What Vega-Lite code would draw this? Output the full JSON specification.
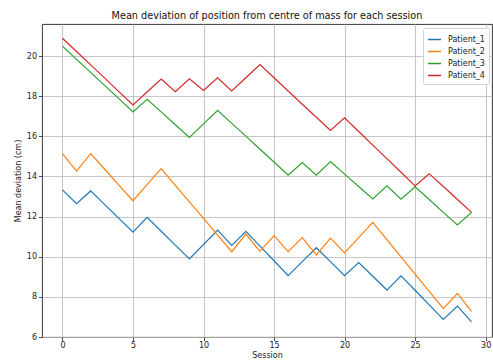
{
  "$schema": "https://vega.github.io/schema/vega-lite/v6.json",
  "width": 450,
  "height": 313,
  "autosize": {"type": "none"},
  "padding": {"left": 42, "top": 24, "right": 1, "bottom": 23},
  "config": {
    "font": "DejaVu Sans",
    "view": {"stroke": "#222", "strokeWidth": 0.9},
    "axis": {"labelFont": "DejaVu Sans", "titleFont": "DejaVu Sans", "labelFontSize": 8, "titleFontSize": 8, "labelColor": "#222", "titleColor": "#222", "titleFontWeight": "normal", "grid": true, "gridColor": "#b8b8b8", "gridWidth": 0.8, "domain": false, "tickColor": "#222", "tickSize": 3.5, "tickWidth": 0.8}
  },
  "title": {"text": "Mean deviation of position from centre of mass for each session", "fontSize": 9.7, "fontWeight": "normal", "font": "DejaVu Sans", "color": "#111", "anchor": "middle", "offset": 3},
  "data": {"values": [
    {"session":0,"patient":"Patient_1","dev":13.33},{"session":1,"patient":"Patient_1","dev":12.64},{"session":2,"patient":"Patient_1","dev":13.28},{"session":3,"patient":"Patient_1","dev":12.60},{"session":4,"patient":"Patient_1","dev":11.91},{"session":5,"patient":"Patient_1","dev":11.23},{"session":6,"patient":"Patient_1","dev":11.96},{"session":7,"patient":"Patient_1","dev":11.27},{"session":8,"patient":"Patient_1","dev":10.58},{"session":9,"patient":"Patient_1","dev":9.89},{"session":10,"patient":"Patient_1","dev":10.61},{"session":11,"patient":"Patient_1","dev":11.33},{"session":12,"patient":"Patient_1","dev":10.57},{"session":13,"patient":"Patient_1","dev":11.27},{"session":14,"patient":"Patient_1","dev":10.53},{"session":15,"patient":"Patient_1","dev":9.80},{"session":16,"patient":"Patient_1","dev":9.06},{"session":17,"patient":"Patient_1","dev":9.76},{"session":18,"patient":"Patient_1","dev":10.45},{"session":19,"patient":"Patient_1","dev":9.76},{"session":20,"patient":"Patient_1","dev":9.06},{"session":21,"patient":"Patient_1","dev":9.71},{"session":22,"patient":"Patient_1","dev":9.03},{"session":23,"patient":"Patient_1","dev":8.34},{"session":24,"patient":"Patient_1","dev":9.05},{"session":25,"patient":"Patient_1","dev":8.33},{"session":26,"patient":"Patient_1","dev":7.60},{"session":27,"patient":"Patient_1","dev":6.88},{"session":28,"patient":"Patient_1","dev":7.54},{"session":29,"patient":"Patient_1","dev":6.75},
    {"session":0,"patient":"Patient_2","dev":15.14},{"session":1,"patient":"Patient_2","dev":14.27},{"session":2,"patient":"Patient_2","dev":15.14},{"session":3,"patient":"Patient_2","dev":14.36},{"session":4,"patient":"Patient_2","dev":13.57},{"session":5,"patient":"Patient_2","dev":12.79},{"session":6,"patient":"Patient_2","dev":13.59},{"session":7,"patient":"Patient_2","dev":14.39},{"session":8,"patient":"Patient_2","dev":13.56},{"session":9,"patient":"Patient_2","dev":12.73},{"session":10,"patient":"Patient_2","dev":11.91},{"session":11,"patient":"Patient_2","dev":11.08},{"session":12,"patient":"Patient_2","dev":10.25},{"session":13,"patient":"Patient_2","dev":11.13},{"session":14,"patient":"Patient_2","dev":10.27},{"session":15,"patient":"Patient_2","dev":11.05},{"session":16,"patient":"Patient_2","dev":10.25},{"session":17,"patient":"Patient_2","dev":10.95},{"session":18,"patient":"Patient_2","dev":10.09},{"session":19,"patient":"Patient_2","dev":10.93},{"session":20,"patient":"Patient_2","dev":10.19},{"session":21,"patient":"Patient_2","dev":10.95},{"session":22,"patient":"Patient_2","dev":11.71},{"session":23,"patient":"Patient_2","dev":10.85},{"session":24,"patient":"Patient_2","dev":9.99},{"session":25,"patient":"Patient_2","dev":9.13},{"session":26,"patient":"Patient_2","dev":8.27},{"session":27,"patient":"Patient_2","dev":7.41},{"session":28,"patient":"Patient_2","dev":8.17},{"session":29,"patient":"Patient_2","dev":7.28},
    {"session":0,"patient":"Patient_3","dev":20.50},{"session":1,"patient":"Patient_3","dev":19.84},{"session":2,"patient":"Patient_3","dev":19.19},{"session":3,"patient":"Patient_3","dev":18.53},{"session":4,"patient":"Patient_3","dev":17.88},{"session":5,"patient":"Patient_3","dev":17.22},{"session":6,"patient":"Patient_3","dev":17.85},{"session":7,"patient":"Patient_3","dev":17.22},{"session":8,"patient":"Patient_3","dev":16.58},{"session":9,"patient":"Patient_3","dev":15.95},{"session":10,"patient":"Patient_3","dev":16.62},{"session":11,"patient":"Patient_3","dev":17.30},{"session":12,"patient":"Patient_3","dev":16.65},{"session":13,"patient":"Patient_3","dev":16.01},{"session":14,"patient":"Patient_3","dev":15.36},{"session":15,"patient":"Patient_3","dev":14.72},{"session":16,"patient":"Patient_3","dev":14.07},{"session":17,"patient":"Patient_3","dev":14.69},{"session":18,"patient":"Patient_3","dev":14.07},{"session":19,"patient":"Patient_3","dev":14.74},{"session":20,"patient":"Patient_3","dev":14.12},{"session":21,"patient":"Patient_3","dev":13.50},{"session":22,"patient":"Patient_3","dev":12.88},{"session":23,"patient":"Patient_3","dev":13.53},{"session":24,"patient":"Patient_3","dev":12.87},{"session":25,"patient":"Patient_3","dev":13.48},{"session":26,"patient":"Patient_3","dev":12.85},{"session":27,"patient":"Patient_3","dev":12.21},{"session":28,"patient":"Patient_3","dev":11.58},{"session":29,"patient":"Patient_3","dev":12.21},
    {"session":0,"patient":"Patient_4","dev":20.89},{"session":1,"patient":"Patient_4","dev":20.23},{"session":2,"patient":"Patient_4","dev":19.56},{"session":3,"patient":"Patient_4","dev":18.90},{"session":4,"patient":"Patient_4","dev":18.23},{"session":5,"patient":"Patient_4","dev":17.57},{"session":6,"patient":"Patient_4","dev":18.21},{"session":7,"patient":"Patient_4","dev":18.86},{"session":8,"patient":"Patient_4","dev":18.23},{"session":9,"patient":"Patient_4","dev":18.87},{"session":10,"patient":"Patient_4","dev":18.29},{"session":11,"patient":"Patient_4","dev":18.92},{"session":12,"patient":"Patient_4","dev":18.26},{"session":13,"patient":"Patient_4","dev":18.92},{"session":14,"patient":"Patient_4","dev":19.58},{"session":15,"patient":"Patient_4","dev":18.92},{"session":16,"patient":"Patient_4","dev":18.26},{"session":17,"patient":"Patient_4","dev":17.60},{"session":18,"patient":"Patient_4","dev":16.95},{"session":19,"patient":"Patient_4","dev":16.29},{"session":20,"patient":"Patient_4","dev":16.92},{"session":21,"patient":"Patient_4","dev":16.24},{"session":22,"patient":"Patient_4","dev":15.56},{"session":23,"patient":"Patient_4","dev":14.89},{"session":24,"patient":"Patient_4","dev":14.21},{"session":25,"patient":"Patient_4","dev":13.53},{"session":26,"patient":"Patient_4","dev":14.14},{"session":27,"patient":"Patient_4","dev":13.50},{"session":28,"patient":"Patient_4","dev":12.85},{"session":29,"patient":"Patient_4","dev":12.21}
  ]},
  "mark": {"type": "line", "strokeWidth": 1.2, "clip": true},
  "encoding": {
    "x": {"field": "session", "type": "quantitative", "title": "Session",
      "scale": {"domain": [-1.45, 30.45], "nice": false, "zero": false},
      "axis": {"values": [0, 5, 10, 15, 20, 25, 30], "labelPadding": 1, "titlePadding": 2}},
    "y": {"field": "dev", "type": "quantitative", "title": "Mean deviation (cm)",
      "scale": {"domain": [6, 21.6], "nice": false, "zero": false},
      "axis": {"values": [6, 8, 10, 12, 14, 16, 18, 20], "labelPadding": 2, "titlePadding": 4}},
    "color": {"field": "patient", "type": "nominal",
      "scale": {"domain": ["Patient_1", "Patient_2", "Patient_3", "Patient_4"], "range": ["#1f77b4", "#ff7f0e", "#2ca02c", "#d62728"]},
      "legend": {"title": null, "orient": "none", "legendX": 381, "legendY": 4, "fillColor": "white", "strokeColor": "#d0d0d0", "cornerRadius": 2, "padding": 4, "symbolType": "stroke", "symbolSize": 170, "symbolStrokeWidth": 1.5, "labelFontSize": 8, "labelFont": "DejaVu Sans", "labelColor": "#222", "labelOffset": 6, "rowPadding": 0}
    }
  }
}
